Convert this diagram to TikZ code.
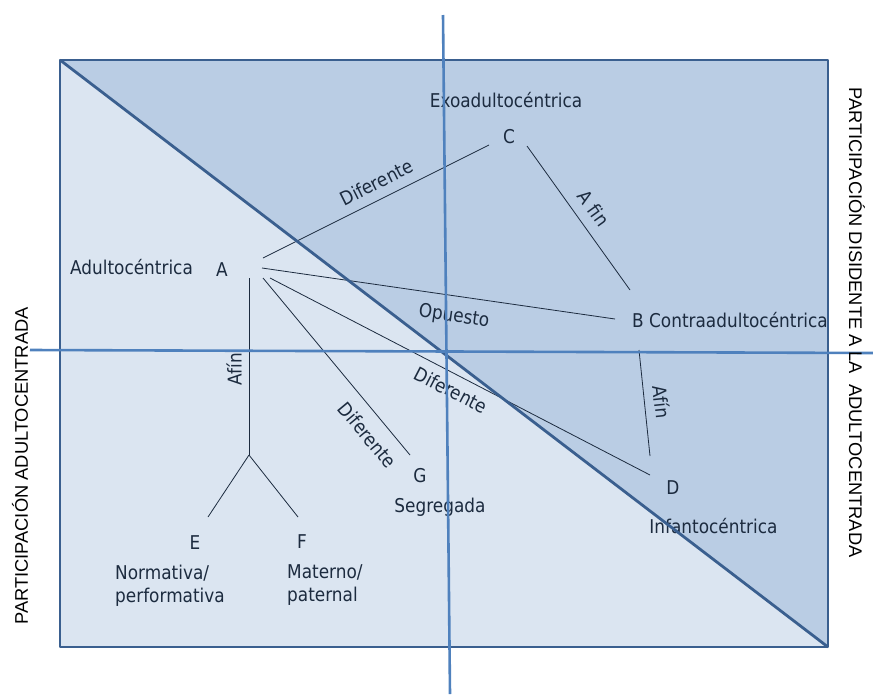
\documentclass[tikz,border=0pt]{standalone}
\usepackage{fontspec}
\newfontfamily\lblfont{DejaVu Sans}[FakeStretch=0.89]
\newfontfamily\axisfont{Liberation Sans}
\definecolor{txtblue}{HTML}{1C2B3F}
\definecolor{lightfill}{HTML}{DBE5F1}
\definecolor{darkfill}{HTML}{BACDE4}
\definecolor{framecol}{HTML}{3A5F8F}
\definecolor{axiscol}{HTML}{4F81BD}
\tikzset{
  lbl/.style={font=\lblfont\fontsize{19}{23}\selectfont, text=txtblue, inner sep=0pt},
  link/.style={draw=txtblue, line width=0.8pt},
  frame/.style={draw=framecol, line width=2.8pt, line join=round},
  axis/.style={draw=axiscol, line width=2.6pt},
  axislbl/.style={font=\axisfont\fontsize{18.3}{22}\selectfont, inner sep=0pt}
}
\begin{document}
\begin{tikzpicture}[x=1pt,y=-1pt]
\useasboundingbox (0,0) rectangle (873,694);

\fill[lightfill] (60,60) -- (828,647) -- (60,647) -- cycle;
\fill[darkfill] (60,60) -- (828,60) -- (828,647) -- cycle;

\node[lbl, anchor=base] (exo) at (506,107) {Exoadultocéntrica};
\node[lbl, anchor=base] (C) at (509,143) {C};
\node[lbl, anchor=base] (adulto) at (131.5,274) {Adultocéntrica};
\node[lbl, anchor=base] (A) at (222,276) {A};
\node[lbl, anchor=base west] (B) at (632,327) {B Contraadultocéntrica};
\node[lbl, anchor=base] (D) at (673,494) {D};
\node[lbl, anchor=base] (infanto) at (713.5,533) {Infantocéntrica};
\node[lbl, anchor=base] (G) at (420,482) {G};
\node[lbl, anchor=base] (segre) at (440,512) {Segregada};
\node[lbl, anchor=base] (E) at (195,549) {E};
\node[lbl, anchor=base] (F) at (302,548) {F};
\node[lbl, anchor=north west, align=left] (normativa) at (115,564.5) {Normativa/\\performativa};
\node[lbl, anchor=north west, align=left] (materno) at (287,564.5) {Materno/\\paternal};

\coordinate (aC) at (263,258);
\coordinate (cA) at (489,145);
\coordinate (cB) at (527,146);
\coordinate (bC) at (630,290);
\coordinate (aB) at (262,268);
\coordinate (bA) at (615,319);
\coordinate (aD) at (270,278);
\coordinate (dA) at (650,475);
\coordinate (aG) at (263,278);
\coordinate (gA) at (410,455);
\coordinate (aE) at (249,278);
\coordinate (fork) at (249,455);
\coordinate (eF) at (208,517);
\coordinate (fF) at (298,517);
\coordinate (bD) at (639,350);
\coordinate (dB) at (650,456);

\draw[link] (aC) -- (cA);
\draw[link] (cB) -- (bC);
\draw[link] (aB) -- (bA);
\draw[link] (aD) -- (dA);
\draw[link] (aG) -- (gA);
\draw[link] (aE) -- (fork);
\draw[link] (fork) -- (eF);
\draw[link] (fork) -- (fF);
\draw[link] (bD) -- (dB);

\node[lbl, rotate=26.6] (difAC) at (376.5,182.5) {Diferente};
\node[lbl, rotate=-54.4] (afinCB) at (594,208) {A fin};
\node[lbl, rotate=-8.2] (opuesto) at (454,317) {Opuesto};
\node[lbl, rotate=-27.4] (difAD) at (451,390) {Diferente};
\node[lbl, rotate=-50.3] (difAG) at (367.5,435) {Diferente};
\node[lbl, rotate=90] (afinAE) at (234,369) {Afín};
\node[lbl, rotate=-84.1] (afinBD) at (662,402) {Afín};

\draw[frame] (60,60) rectangle (828,647);
\draw[frame] (60,60) -- (828,647);
\draw[axis] (443,15) -- (450,694);
\draw[axis] (30,350) -- (873,353);

\node[axislbl, rotate=90] (left) at (20,466) {PARTICIPACIÓN ADULTOCENTRADA};
\node[axislbl, rotate=-90] (right) at (857,322.5) {PARTICIPACIÓN DISIDENTE A LA\ \ ADULTOCENTRADA};
\end{tikzpicture}
\end{document}
